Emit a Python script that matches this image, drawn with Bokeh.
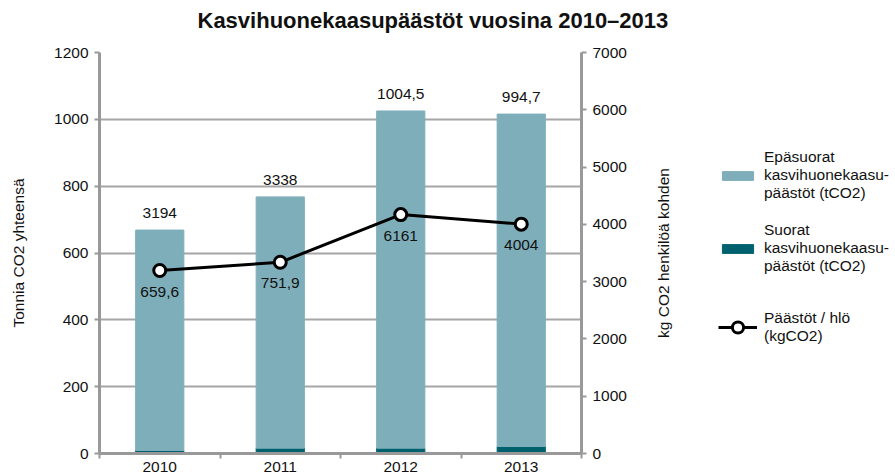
from bokeh.plotting import figure
from bokeh.layouts import row, column
from bokeh.models import (Range1d, LinearAxis, FixedTicker, Legend, LegendItem,
                          ColumnDataSource)
from bokeh.core.properties import value
from bokeh.embed import file_html
from bokeh.resources import INLINE

# ---- data ----
years = ["2010", "2011", "2012", "2013"]
indirect = [659.6, 751.9, 1009.0, 994.7]      # Epäsuorat (tCO2)
direct = [9, 16, 16, 21]                      # Suorat (tCO2)
per_person = [3194, 3338, 4170, 4004]         # kgCO2 / hlö
top_labels = ["3194", "3338", "1004,5", "994,7"]
point_labels = ["659,6", "751,9", "6161", "4004"]
left_ticks = [0, 200, 400, 600, 800, 1000, 1200]
right_ticks = [0, 1000, 2000, 3000, 4000, 5000, 6000, 7000]
legend_labels = ["Epäsuorat\nkasvihuonekaasu-\npäästöt (tCO2)",
                 "Suorat\nkasvihuonekaasu-\npäästöt (tCO2)",
                 "Päästöt / hlö\n(kgCO2)"]
title_text = "Kasvihuonekaasupäästöt vuosina 2010–2013"
left_title = "Tonnia CO2 yhteensä"
right_title = "kg CO2 henkilöä kohden"

FONT = "Liberation Sans"
FS = "15.5px"
LIGHT = "#7FAEBB"
DARK = "#00616E"
GRID = "#A6A6A6"
AXIS = "#999999"
TXT = "#111111"

xs = [i + 0.5 for i in range(len(years))]
bounds = list(range(len(years) + 1))
totals = [a + b for a, b in zip(indirect, direct)]

src = ColumnDataSource(dict(x=xs, direct=direct, indirect=indirect, total=totals,
                            pp=per_person, top=top_labels, pl=point_labels))

# ---- title strip ----
tf = figure(width=895, height=40, output_backend="svg", toolbar_location=None,
            min_border=0, x_axis_location=None, y_axis_location=None,
            x_range=Range1d(0, 1), y_range=Range1d(0, 1))
tf.outline_line_color = None
tf.grid.visible = False
tf.title.text = title_text
tf.title.text_font = FONT
tf.title.text_font_size = "22px"
tf.title.text_font_style = "bold"
tf.title.text_color = TXT
tf.title.align = "left"
tf.title.offset = 197
tf.title.vertical_align = "bottom"
tf.title.standoff = 10

# ---- main chart ----
p = figure(width=640, height=435, x_range=Range1d(0, len(years)),
           y_range=Range1d(0, 1200), output_backend="svg", toolbar_location=None,
           min_border_left=99, min_border_right=59, min_border_top=12,
           min_border_bottom=22)
p.extra_y_ranges = {"pp": Range1d(0, 7000)}
p.outline_line_color = None

p.vbar_stack(["direct", "indirect"], x="x", width=0.4, color=[DARK, LIGHT], source=src)
p.line("x", "pp", y_range_name="pp", line_width=3, color="black", source=src)
p.scatter("x", "pp", y_range_name="pp", size=12, fill_color="white",
          line_color="black", line_width=3, source=src)

p.text(x="x", y="total", text="top", source=src, text_align="center",
       text_baseline="middle", y_offset=-17, text_font=value(FONT),
       text_font_size=FS, text_color=TXT)
p.text(x="x", y="pp", y_range_name="pp", text="pl", source=src, text_align="center",
       text_baseline="middle", y_offset=21, text_font=value(FONT),
       text_font_size=FS, text_color=TXT)

p.xgrid.visible = False
p.ygrid.ticker = FixedTicker(ticks=left_ticks)
p.ygrid.grid_line_color = GRID
p.ygrid.grid_line_width = 2

ya = p.yaxis[0]
ya.ticker = FixedTicker(ticks=left_ticks)
ya.axis_label = left_title
ya.axis_label_text_font = FONT
ya.axis_label_text_font_size = FS
ya.axis_label_text_font_style = "normal"
ya.axis_label_text_color = TXT
ya.axis_label_standoff = 24
ya.major_label_text_font = FONT
ya.major_label_text_font_size = FS
ya.major_label_text_color = TXT
ya.major_label_standoff = 6
ya.axis_line_color = AXIS
ya.axis_line_width = 3
ya.major_tick_line_color = AXIS
ya.major_tick_line_width = 2
ya.major_tick_out = 5
ya.major_tick_in = 0
ya.minor_tick_line_color = None

xa = p.below[0]
xa.ticker = FixedTicker(ticks=xs, minor_ticks=bounds)
xa.major_label_overrides = {x: y for x, y in zip(xs, years)}
xa.major_label_text_font = FONT
xa.major_label_text_font_size = FS
xa.major_label_text_color = TXT
xa.major_label_standoff = 3
xa.major_tick_line_color = None
xa.major_tick_out = 0
xa.major_tick_in = 0
xa.minor_tick_line_color = AXIS
xa.minor_tick_line_width = 2
xa.minor_tick_out = 5
xa.minor_tick_in = 0
xa.axis_line_color = AXIS
xa.axis_line_width = 3

ra = LinearAxis(y_range_name="pp", ticker=FixedTicker(ticks=right_ticks))
ra.major_label_text_font = FONT
ra.major_label_text_font_size = FS
ra.major_label_text_color = TXT
ra.major_label_standoff = 6
ra.axis_line_color = AXIS
ra.axis_line_width = 3
ra.major_tick_line_color = AXIS
ra.major_tick_line_width = 2
ra.major_tick_out = 5
ra.major_tick_in = 0
ra.minor_tick_line_color = None
p.add_layout(ra, "right")

# ---- right-hand strip: right axis title + legend ----
# the renderers here reuse the data but lie outside this figure's visible range
lg = figure(width=255, height=435, x_range=Range1d(-20, -19), y_range=Range1d(-20, -19),
            output_backend="svg", toolbar_location=None, min_border_left=40,
            min_border_right=0, min_border_top=12, min_border_bottom=22,
            x_axis_location=None)
lg.outline_line_color = None
lg.grid.visible = False
la = lg.yaxis[0]
la.ticker = FixedTicker(ticks=[])
la.axis_label = right_title
la.axis_label_text_font = FONT
la.axis_label_text_font_size = FS
la.axis_label_text_font_style = "normal"
la.axis_label_text_color = TXT
la.axis_label_standoff = 9
la.axis_line_color = None
la.major_tick_line_color = None
la.minor_tick_line_color = None
la.major_tick_out = 0
la.major_tick_in = 0
la.major_label_standoff = 0

r_ind = lg.vbar(x="x", top="indirect", width=0.4, color=LIGHT, source=src)
r_dir = lg.vbar(x="x", top="direct", width=0.4, color=DARK, source=src)
r_line = lg.line("x", "pp", line_width=3, color="black", source=src)
r_pt = lg.scatter("x", "pp", size=12, fill_color="white", line_color="black",
                  line_width=3, source=src)


def style_legend(lgd):
    lgd.glyph_width = 39
    lgd.label_standoff = 7
    lgd.label_text_font = FONT
    lgd.label_text_font_size = FS
    lgd.label_text_color = TXT
    lgd.label_text_line_height = 1.2
    lgd.border_line_color = None
    lgd.background_fill_alpha = 0
    lgd.padding = 0
    lgd.margin = 0


leg1 = Legend(items=[LegendItem(label=legend_labels[0], renderers=[r_ind], index=0),
                     LegendItem(label=legend_labels[1], renderers=[r_dir], index=0)],
              location=(38, 178))
style_legend(leg1)
leg1.glyph_height = 11
leg1.spacing = 19
lg.add_layout(leg1)

leg2 = Legend(items=[LegendItem(label=legend_labels[2], renderers=[r_line, r_pt], index=0)],
              location=(38, 108))
style_legend(leg2)
leg2.glyph_height = 28
lg.add_layout(leg2)

layout = column(tf, row(p, lg))
open("out.html", "w").write(file_html(layout, INLINE))
